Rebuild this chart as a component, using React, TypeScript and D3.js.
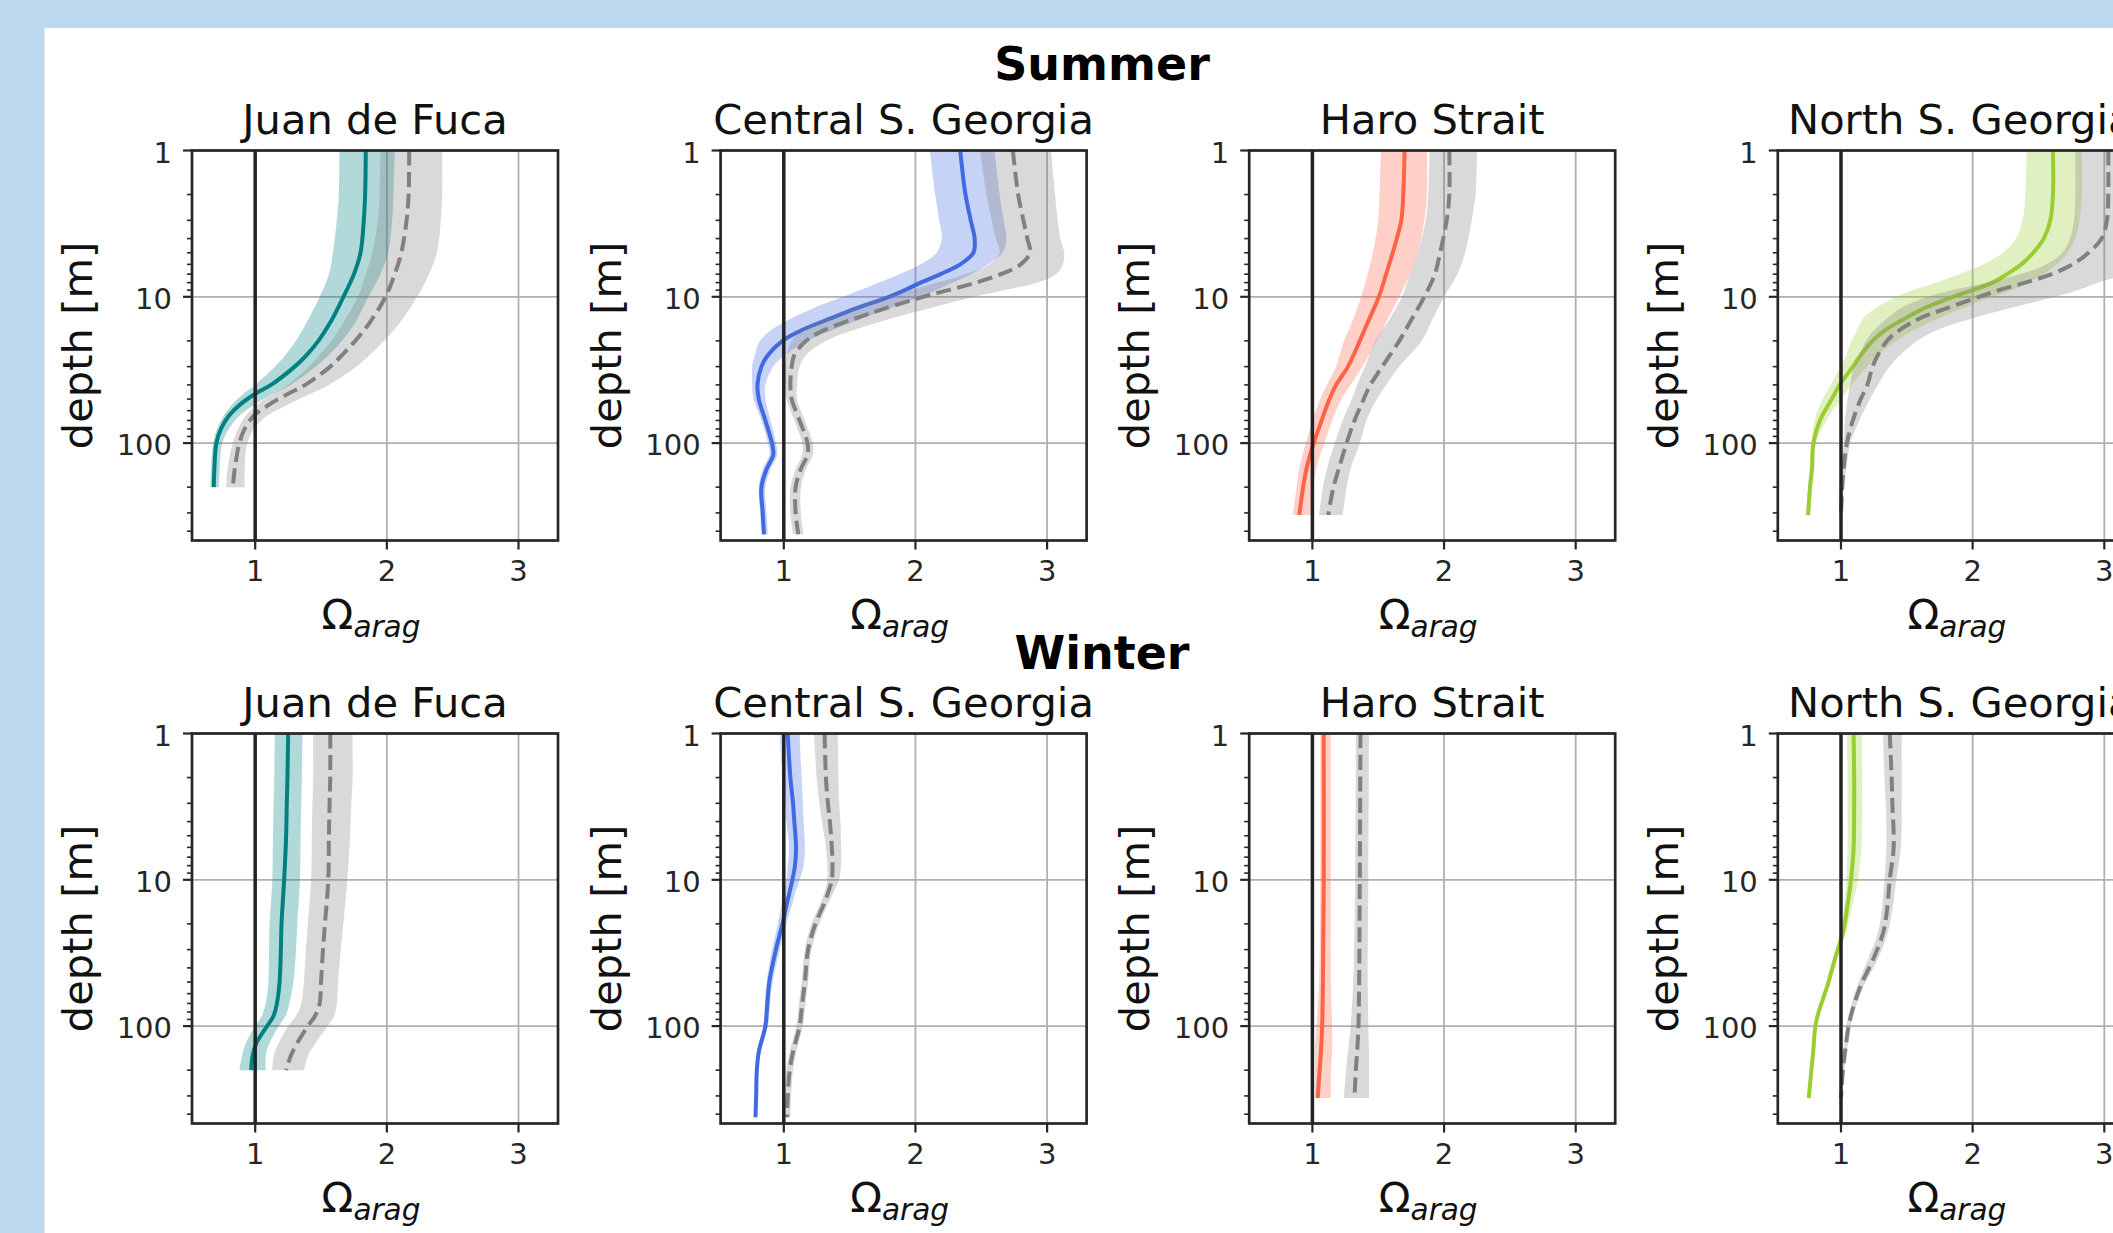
import React from 'react';
import * as d3 from 'd3';

// depth [m], station mean, station lo, station hi, reference mean, reference lo, reference hi
type Row = [number, number, number, number, number, number, number];

const seasons = ['Summer', 'Winter'];
const stations = ['Juan de Fuca', 'Central S. Georgia', 'Haro Strait', 'North S. Georgia'];
const stationColors = ['#008080', '#4169e1', '#ff6347', '#9acd32'];
const xTicks = [1, 2, 3];
const yTicks = [1, 10, 100];

const summerJuanDeFuca: Row[] = [
  [1, 1.84, 1.64, 2.06, 2.17, 1.95, 2.42],
  [2, 1.835, 1.635, 2.05, 2.165, 1.945, 2.42],
  [3, 1.825, 1.62, 2.04, 2.15, 1.93, 2.41],
  [5, 1.8, 1.59, 2.01, 2.11, 1.89, 2.38],
  [7, 1.75, 1.56, 1.95, 2.06, 1.84, 2.32],
  [10, 1.67, 1.49, 1.86, 1.99, 1.78, 2.23],
  [15, 1.57, 1.39, 1.76, 1.87, 1.67, 2.1],
  [20, 1.48, 1.31, 1.66, 1.76, 1.58, 1.98],
  [25, 1.39, 1.23, 1.56, 1.66, 1.49, 1.87],
  [30, 1.3, 1.15, 1.46, 1.57, 1.41, 1.77],
  [40, 1.12, 1.0, 1.27, 1.38, 1.25, 1.56],
  [46, 1.0, 0.91, 1.14, 1.25, 1.14, 1.42],
  [55, 0.88, 0.82, 0.99, 1.1, 1.01, 1.24],
  [65, 0.8, 0.76, 0.88, 0.99, 0.93, 1.09],
  [80, 0.74, 0.71, 0.8, 0.92, 0.87, 0.99],
  [100, 0.705, 0.68, 0.75, 0.88, 0.83, 0.94],
  [150, 0.69, 0.665, 0.73, 0.845, 0.79, 0.92],
  [200, 0.685, 0.66, 0.725, 0.83, 0.78, 0.92],
];

const summerCentralSG: Row[] = [
  [1, 2.34, 2.11, 2.6, 2.74, 2.49, 3.03],
  [2, 2.38, 2.15, 2.64, 2.78, 2.54, 3.06],
  [3, 2.42, 2.18, 2.67, 2.82, 2.58, 3.08],
  [4, 2.45, 2.2, 2.69, 2.85, 2.61, 3.1],
  [5, 2.44, 2.16, 2.66, 2.87, 2.64, 3.13],
  [6, 2.34, 2.04, 2.55, 2.8, 2.56, 3.12],
  [7, 2.19, 1.88, 2.42, 2.65, 2.38, 3.07],
  [8, 2.04, 1.72, 2.28, 2.46, 2.16, 2.92],
  [9, 1.92, 1.58, 2.16, 2.25, 1.96, 2.68],
  [10, 1.8, 1.45, 2.04, 2.06, 1.78, 2.45],
  [12, 1.55, 1.22, 1.8, 1.77, 1.5, 2.1],
  [14, 1.36, 1.06, 1.6, 1.55, 1.32, 1.82],
  [17, 1.13, 0.9, 1.36, 1.3, 1.13, 1.52],
  [20, 0.99, 0.82, 1.18, 1.17, 1.06, 1.32],
  [25, 0.88, 0.78, 1.01, 1.08, 1.02, 1.17],
  [30, 0.83, 0.76, 0.92, 1.06, 1.01, 1.12],
  [40, 0.8, 0.76, 0.86, 1.05, 1.01, 1.1],
  [50, 0.81, 0.77, 0.86, 1.06, 1.02, 1.1],
  [70, 0.86, 0.83, 0.9, 1.12, 1.08, 1.16],
  [100, 0.91, 0.88, 0.94, 1.18, 1.14, 1.22],
  [120, 0.92, 0.89, 0.95, 1.18, 1.14, 1.22],
  [150, 0.87, 0.84, 0.9, 1.13, 1.09, 1.17],
  [200, 0.83, 0.81, 0.86, 1.09, 1.05, 1.13],
  [300, 0.84, 0.82, 0.87, 1.09, 1.05, 1.13],
  [420, 0.85, 0.83, 0.88, 1.11, 1.07, 1.15],
];

const summerHaro: Row[] = [
  [1, 1.7, 1.52, 1.87, 2.04, 1.89, 2.25],
  [2, 1.69, 1.51, 1.87, 2.04, 1.88, 2.24],
  [3, 1.675, 1.5, 1.85, 2.02, 1.86, 2.21],
  [5, 1.61, 1.46, 1.8, 1.97, 1.8, 2.16],
  [7, 1.56, 1.42, 1.74, 1.93, 1.74, 2.1],
  [10, 1.505, 1.37, 1.66, 1.85, 1.68, 2.0],
  [15, 1.42, 1.3, 1.56, 1.74, 1.57, 1.9],
  [20, 1.36, 1.24, 1.49, 1.66, 1.48, 1.83],
  [30, 1.27, 1.18, 1.38, 1.53, 1.4, 1.66],
  [40, 1.18, 1.11, 1.29, 1.44, 1.34, 1.56],
  [50, 1.13, 1.06, 1.22, 1.39, 1.3, 1.49],
  [70, 1.07, 1.0, 1.15, 1.32, 1.23, 1.41],
  [100, 1.01, 0.95, 1.09, 1.26, 1.17, 1.36],
  [150, 0.955, 0.9, 1.03, 1.2, 1.11, 1.29],
  [200, 0.93, 0.88, 1.01, 1.16, 1.08, 1.26],
  [310, 0.9, 0.85, 1.01, 1.12, 1.05, 1.23],
];

const summerNorthSG: Row[] = [
  [1, 2.61, 2.41, 2.83, 3.03, 2.78, 3.25],
  [2, 2.61, 2.4, 2.83, 3.03, 2.78, 3.26],
  [3, 2.59, 2.38, 2.81, 3.02, 2.77, 3.27],
  [4, 2.54, 2.33, 2.78, 2.98, 2.74, 3.29],
  [5, 2.46, 2.23, 2.72, 2.88, 2.68, 3.3],
  [6, 2.37, 2.08, 2.64, 2.76, 2.56, 3.25],
  [7, 2.26, 1.9, 2.54, 2.6, 2.36, 3.15],
  [8, 2.15, 1.72, 2.42, 2.4, 2.1, 2.95],
  [9, 2.0, 1.55, 2.3, 2.2, 1.85, 2.8],
  [10, 1.85, 1.42, 2.15, 2.05, 1.66, 2.63],
  [12, 1.63, 1.26, 1.92, 1.8, 1.45, 2.27],
  [14, 1.49, 1.17, 1.74, 1.6, 1.35, 2.0],
  [17, 1.33, 1.12, 1.55, 1.44, 1.25, 1.72],
  [20, 1.24, 1.08, 1.42, 1.35, 1.19, 1.58],
  [25, 1.15, 1.04, 1.28, 1.28, 1.14, 1.45],
  [30, 1.09, 1.0, 1.2, 1.24, 1.1, 1.37],
  [40, 0.99, 0.92, 1.08, 1.2, 1.07, 1.28],
  [50, 0.93, 0.86, 1.0, 1.15, 1.05, 1.22],
  [70, 0.84, 0.8, 0.89, 1.09, 1.03, 1.14],
  [100, 0.79, 0.775, 0.81, 1.045, 1.02, 1.07],
  [150, 0.78, 0.76, 0.795, 1.02, 1.0, 1.04],
  [200, 0.765, 0.75, 0.78, 1.01, 0.99, 1.02],
  [310, 0.75, 0.735, 0.765, 1.0, 0.985, 1.01],
];

const winterJuanDeFuca: Row[] = [
  [1, 1.25, 1.15, 1.36, 1.57, 1.44, 1.74],
  [2, 1.245, 1.145, 1.355, 1.57, 1.44, 1.74],
  [3, 1.24, 1.14, 1.35, 1.565, 1.435, 1.73],
  [5, 1.235, 1.135, 1.345, 1.56, 1.43, 1.72],
  [10, 1.22, 1.13, 1.34, 1.555, 1.425, 1.7],
  [20, 1.2, 1.11, 1.32, 1.53, 1.4, 1.67],
  [30, 1.195, 1.105, 1.31, 1.515, 1.385, 1.65],
  [50, 1.185, 1.1, 1.29, 1.5, 1.37, 1.63],
  [70, 1.165, 1.08, 1.26, 1.49, 1.35, 1.62],
  [85, 1.14, 1.05, 1.23, 1.455, 1.31, 1.6],
  [100, 1.09, 1.0, 1.18, 1.4, 1.25, 1.55],
  [130, 1.01, 0.93, 1.11, 1.32, 1.18, 1.46],
  [160, 0.98, 0.9, 1.08, 1.27, 1.14, 1.4],
  [200, 0.97, 0.88, 1.08, 1.235, 1.13, 1.37],
];

const winterCentralSG: Row[] = [
  [1, 1.03, 0.97, 1.12, 1.31, 1.23, 1.41],
  [2, 1.05, 0.99, 1.135, 1.32, 1.25, 1.415],
  [3, 1.07, 1.01, 1.145, 1.335, 1.27, 1.42],
  [4, 1.08, 1.02, 1.15, 1.35, 1.29, 1.43],
  [6, 1.093, 1.04, 1.16, 1.365, 1.32, 1.435],
  [8, 1.085, 1.03, 1.15, 1.37, 1.33, 1.435],
  [10, 1.065, 1.02, 1.12, 1.365, 1.33, 1.42],
  [12, 1.045, 1.0, 1.09, 1.34, 1.31, 1.38],
  [15, 1.02, 0.98, 1.06, 1.3, 1.27, 1.33],
  [20, 0.99, 0.955, 1.02, 1.24, 1.21, 1.27],
  [30, 0.94, 0.91, 0.97, 1.185, 1.16, 1.21],
  [50, 0.89, 0.87, 0.915, 1.16, 1.135, 1.185],
  [70, 0.875, 0.855, 0.895, 1.14, 1.115, 1.165],
  [100, 0.86, 0.845, 0.88, 1.12, 1.095, 1.145],
  [150, 0.81, 0.8, 0.825, 1.07, 1.045, 1.095],
  [200, 0.795, 0.785, 0.81, 1.045, 1.02, 1.07],
  [300, 0.79, 0.78, 0.8, 1.03, 1.005, 1.055],
  [420, 0.785, 0.775, 0.795, 1.025, 1.0, 1.05],
];

const winterHaro: Row[] = [
  [1, 1.086, 1.06, 1.14, 1.365, 1.33, 1.43],
  [10, 1.086, 1.06, 1.14, 1.36, 1.325, 1.425],
  [50, 1.08, 1.05, 1.14, 1.355, 1.31, 1.42],
  [100, 1.074, 1.03, 1.15, 1.35, 1.29, 1.425],
  [150, 1.065, 1.02, 1.15, 1.34, 1.27, 1.43],
  [200, 1.055, 1.02, 1.14, 1.33, 1.255, 1.43],
  [310, 1.04, 1.02, 1.14, 1.32, 1.24, 1.43],
];

const winterNorthSG: Row[] = [
  [1, 1.096, 1.045, 1.16, 1.37, 1.32, 1.46],
  [2, 1.1, 1.05, 1.16, 1.385, 1.33, 1.46],
  [3, 1.1, 1.05, 1.16, 1.39, 1.34, 1.46],
  [6, 1.096, 1.05, 1.155, 1.4, 1.345, 1.455],
  [10, 1.076, 1.04, 1.13, 1.37, 1.33, 1.42],
  [16, 1.045, 1.02, 1.08, 1.35, 1.31, 1.39],
  [23, 1.015, 0.995, 1.035, 1.32, 1.28, 1.355],
  [34, 0.957, 0.94, 0.975, 1.25, 1.21, 1.285],
  [54, 0.894, 0.88, 0.91, 1.146, 1.12, 1.17],
  [80, 0.83, 0.82, 0.845, 1.083, 1.065, 1.1],
  [100, 0.805, 0.795, 0.815, 1.058, 1.04, 1.075],
  [145, 0.79, 0.78, 0.8, 1.033, 1.02, 1.045],
  [200, 0.775, 0.765, 0.785, 1.015, 1.005, 1.025],
  [310, 0.755, 0.745, 0.765, 1.0, 0.99, 1.01],
];

const panels: Row[][][] = [
  [summerJuanDeFuca, summerCentralSG, summerHaro, summerNorthSG],
  [winterJuanDeFuca, winterCentralSG, winterHaro, winterNorthSG],
];

const W = 2113;
const H = 1233;
const panelW = 366;
const panelH = 390;
const panelLeft = (i: number) => 192 + i * 528.6;
const rowTop = [150.5, 733.5];
const suptitleY = [80, 669];
const font = 'DejaVu Sans, sans-serif';

const x = d3.scaleLinear().domain([0.52, 3.3]).range([0, panelW]);
const y = d3.scaleLog().domain([1, 463]).range([0, panelH]);

const minorTicks = d3.range(0, 3).flatMap(e => d3.range(2, 10).map(m => m * Math.pow(10, e)))
  .filter(v => v < y.domain()[1]);

const band = (lo: number, hi: number) => d3.area<Row>()
  .y(d => y(d[0]))
  .x0(d => x(d[lo]))
  .x1(d => x(d[hi]))
  .curve(d3.curveCatmullRom);

const line = (k: number) => d3.line<Row>()
  .y(d => y(d[0]))
  .x(d => x(d[k]))
  .curve(d3.curveCatmullRom);

const Panel: React.FC<{ rows: Row[]; col: number; row: number }> = ({ rows, col, row }) => {
  const left = panelLeft(col);
  const top = rowTop[row];
  const color = stationColors[col];
  const clipId = `clip-${row}-${col}`;
  return (
    <g transform={`translate(${left},${top})`}>
      <clipPath id={clipId}>
        <rect x={0} y={0} width={panelW} height={panelH} />
      </clipPath>
      {/* grid */}
      {xTicks.map(t => (
        <line key={'gx' + t} x1={x(t)} x2={x(t)} y1={0} y2={panelH} stroke="#b0b0b0" strokeWidth={1.8} />
      ))}
      {yTicks.map(t => (
        <line key={'gy' + t} x1={0} x2={panelW} y1={y(t)} y2={y(t)} stroke="#b0b0b0" strokeWidth={1.8} />
      ))}
      <g clipPath={`url(#${clipId})`}>
        <path d={band(2, 3)(rows) ?? ''} fill={color} fillOpacity={0.3} />
        <path d={line(1)(rows) ?? ''} fill="none" stroke={color} strokeWidth={4} />
        <path d={band(5, 6)(rows) ?? ''} fill="#808080" fillOpacity={0.3} />
        <path d={line(4)(rows) ?? ''} fill="none" stroke="#808080" strokeWidth={4} strokeDasharray="15,6.5" />
        <line x1={x(1)} x2={x(1)} y1={0} y2={panelH} stroke="#222" strokeWidth={3.5} />
      </g>
      {/* spines */}
      <rect x={0} y={0} width={panelW} height={panelH} fill="none" stroke="#262626" strokeWidth={2.7} />
      {/* x ticks */}
      {xTicks.map(t => (
        <g key={'xt' + t} transform={`translate(${x(t)},${panelH})`}>
          <line y1={0} y2={9} stroke="#262626" strokeWidth={2.2} />
          <text y={40} textAnchor="middle" fontSize={29} fontFamily={font} fill="#262626">{t}</text>
        </g>
      ))}
      {/* y ticks */}
      {yTicks.map(t => (
        <g key={'yt' + t} transform={`translate(0,${y(t)})`}>
          <line x1={0} x2={-9} stroke="#262626" strokeWidth={2.2} />
          <text x={-20} y={12} textAnchor="end" fontSize={29} fontFamily={font} fill="#262626">{t}</text>
        </g>
      ))}
      {minorTicks.map(t => (
        <line key={'ym' + t} x1={0} x2={-5} y1={y(t)} y2={y(t)} stroke="#262626" strokeWidth={1.6} />
      ))}
      {/* labels */}
      <text x={panelW / 2} y={-16.5} textAnchor="middle" fontSize={41.6} fontFamily={font} fill="#111">
        {stations[col]}
      </text>
      <text transform={`translate(-100,${panelH / 2}) rotate(-90)`} textAnchor="middle" fontSize={41.6}
        fontFamily={font} fill="#111">depth [m]</text>
      <text x={panelW / 2 - 4} y={panelH + 88.5} textAnchor="middle" fontFamily={font} fill="#111">
        <tspan fontSize={41.6}>Ω</tspan>
        <tspan fontSize={29.5} fontStyle="italic" dy={8}>arag</tspan>
      </text>
    </g>
  );
};

const App: React.FC = () => {
  return (
    <div style={{ position: 'absolute', left: 0, top: 0 }}>
      <svg width={W} height={H} viewBox={`0 0 ${W} ${H}`} style={{ display: 'block' }}>
        <rect x={0} y={0} width={W} height={H} fill="#bdd7ee" />
        <rect x={44.5} y={28} width={W} height={H} fill="#ffffff" />
        {seasons.map((s, r) => (
          <text key={s} x={1102} y={suptitleY[r]} textAnchor="middle" fontSize={46} fontWeight="bold"
            fontFamily={font} fill="#000">{s}</text>
        ))}
        {panels.map((rowPanels, r) => rowPanels.map((rows, c) => (
          <Panel key={`${r}-${c}`} rows={rows} col={c} row={r} />
        )))}
      </svg>
    </div>
  );
};

export default App;
